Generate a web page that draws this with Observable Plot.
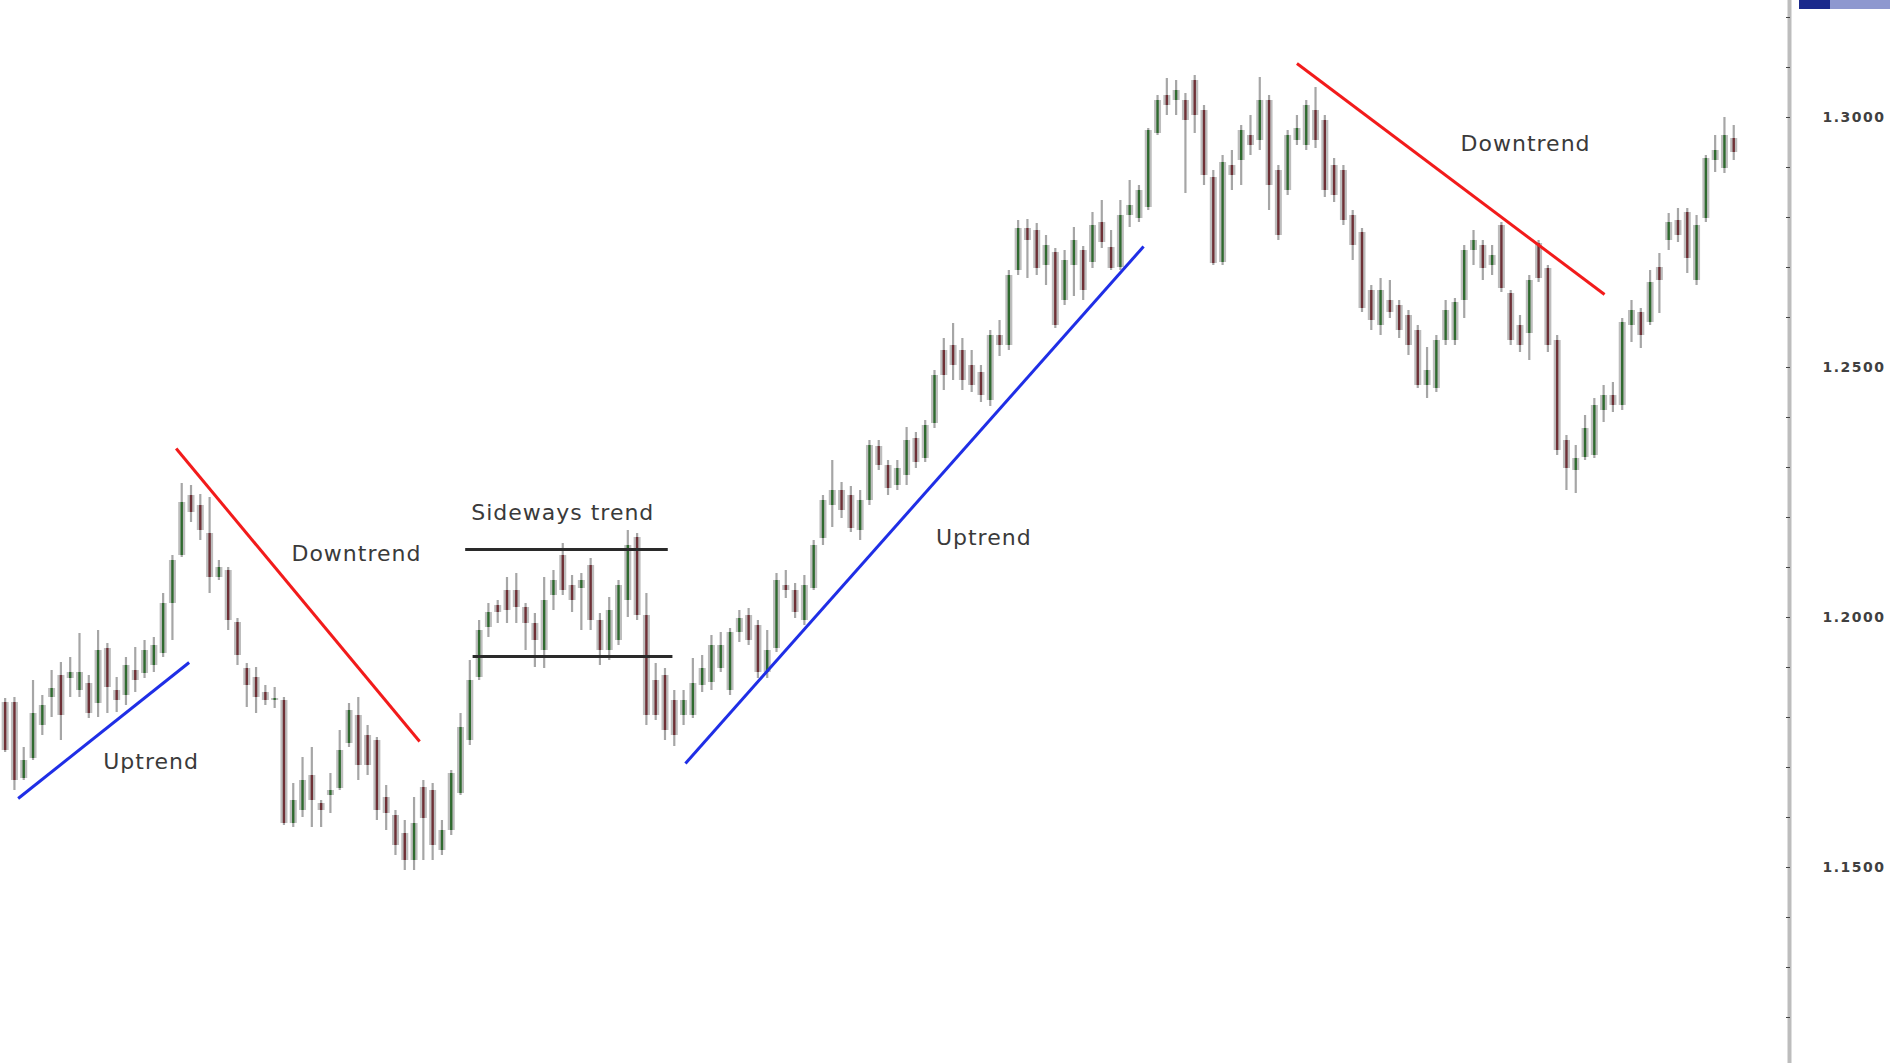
<!DOCTYPE html>
<html><head><meta charset="utf-8">
<script src="https://cdn.jsdelivr.net/npm/d3@7"></script>
<script src="https://cdn.jsdelivr.net/npm/@observablehq/plot@0.6"></script>
<style>
html,body{margin:0;padding:0;background:#fff;overflow:hidden}
#chart{position:relative;width:1890px;height:1063px}
#tag{position:absolute;left:1799px;top:0;width:91px;height:9px;background:linear-gradient(90deg,#1b2a8c 0 34%,#8e98cf 34% 100%)}
g[aria-label="text"] text{letter-spacing:1px}
g[aria-label="y-axis tick label"] text{letter-spacing:1.5px}
</style></head><body><div id="chart"><div id="tag"></div></div>
<script>
// OHLC values (EUR/USD-like quotes)
const open = [1.1830,1.1830,1.1678,1.1718,1.1784,1.1840,1.1884,1.1878,1.1854,1.1868,
1.1828,1.1938,1.1854,1.1844,1.1894,1.1888,1.1904,1.1928,1.2028,1.2124,
1.2244,1.2224,1.2168,1.2080,1.2094,1.1990,1.1898,1.1880,1.1850,1.1834,
1.1834,1.1588,1.1614,1.1684,1.1628,1.1644,1.1658,1.1748,1.1804,1.1764,
1.1754,1.1640,1.1604,1.1568,1.1514,1.1660,1.1654,1.1534,1.1574,1.1648,
1.1754,1.1880,1.1980,1.2024,1.2054,1.2054,1.2020,1.1988,1.1934,1.2044,
1.2124,1.2064,1.2058,1.2104,1.1994,1.1934,1.1954,1.2034,1.2160,1.2004,
1.1874,1.1884,1.1834,1.1804,1.1804,1.1864,1.1870,1.1898,1.1854,1.1970,
1.2004,1.1984,1.1890,1.1938,1.2064,1.2054,1.1994,1.2058,1.2158,1.2224,
1.2254,1.2244,1.2174,1.2234,1.2342,1.2304,1.2264,1.2284,1.2358,1.2318,
1.2388,1.2534,1.2544,1.2534,1.2504,1.2490,1.2434,1.2564,1.2544,1.2694,
1.2778,1.2774,1.2704,1.2730,1.2634,1.2704,1.2734,1.2710,1.2790,1.2740,
1.2700,1.2804,1.2798,1.2820,1.2968,1.3044,1.3034,1.3034,1.3074,1.3014,
1.2880,1.2710,1.2904,1.2914,1.2964,1.2954,1.3034,1.2894,1.2854,1.2954,
1.2944,1.3014,1.2994,1.2904,1.2894,1.2804,1.2770,1.2654,1.2584,1.2634,
1.2624,1.2604,1.2574,1.2464,1.2458,1.2554,1.2554,1.2634,1.2734,1.2744,
1.2704,1.2784,1.2648,1.2584,1.2568,1.2748,1.2698,1.2554,1.2354,1.2294,
1.2320,1.2324,1.2414,1.2444,1.2424,1.2584,1.2610,1.2590,1.2700,1.2754,
1.2794,1.2810,1.2674,1.2798,1.2914,1.2898,1.2958];
const high = [1.1838,1.1840,1.1740,1.1874,1.1844,1.1894,1.1910,1.1920,1.1968,1.1884,
1.1974,1.1948,1.1880,1.1920,1.1940,1.1954,1.1960,1.2048,1.2124,1.2268,
1.2264,1.2246,1.2240,1.2114,1.2100,1.1998,1.1908,1.1900,1.1864,1.1860,
1.1840,1.1668,1.1720,1.1740,1.1634,1.1688,1.1774,1.1828,1.1840,1.1784,
1.1760,1.1664,1.1614,1.1594,1.1640,1.1674,1.1668,1.1594,1.1694,1.1808,
1.1914,1.1994,1.2028,1.2034,1.2080,1.2088,1.2028,1.2008,1.2080,1.2094,
1.2148,1.2084,1.2088,1.2118,1.2008,1.2040,1.2074,1.2174,1.2168,1.2048,
1.1908,1.1898,1.1854,1.1854,1.1918,1.1924,1.1964,1.1970,1.1978,1.2014,
1.2018,1.1994,1.1974,1.2088,1.2094,1.2068,1.2084,1.2154,1.2244,1.2314,
1.2270,1.2262,1.2254,1.2354,1.2354,1.2314,1.2314,1.2380,1.2370,1.2394,
1.2494,1.2558,1.2588,1.2558,1.2534,1.2504,1.2574,1.2594,1.2694,1.2794,
1.2796,1.2788,1.2764,1.2738,1.2734,1.2780,1.2742,1.2810,1.2834,1.2774,
1.2834,1.2874,1.2864,1.2978,1.3044,1.3078,1.3074,1.3048,1.3084,1.3024,
1.2894,1.2924,1.2934,1.2984,1.3004,1.3080,1.3044,1.2904,1.2974,1.3004,
1.3034,1.3060,1.3004,1.2918,1.2904,1.2814,1.2778,1.2664,1.2678,1.2674,
1.2634,1.2614,1.2584,1.2540,1.2564,1.2634,1.2638,1.2744,1.2774,1.2754,
1.2744,1.2790,1.2654,1.2604,1.2684,1.2754,1.2704,1.2564,1.2364,1.2344,
1.2404,1.2438,1.2464,1.2470,1.2598,1.2634,1.2618,1.2694,1.2728,1.2808,
1.2818,1.2818,1.2804,1.2924,1.2964,1.3000,1.2984];
const low = [1.1730,1.1654,1.1674,1.1714,1.1764,1.1800,1.1754,1.1840,1.1840,1.1798,
1.1800,1.1808,1.1810,1.1824,1.1850,1.1878,1.1890,1.1920,1.1954,1.2120,
1.2190,1.2154,1.2048,1.2074,1.1974,1.1904,1.1820,1.1808,1.1824,1.1818,
1.1584,1.1580,1.1600,1.1580,1.1580,1.1608,1.1654,1.1740,1.1674,1.1684,
1.1594,1.1574,1.1524,1.1494,1.1494,1.1514,1.1514,1.1524,1.1564,1.1644,
1.1744,1.1874,1.1960,1.1988,1.1988,1.1988,1.1934,1.1900,1.1898,1.2014,
1.2044,1.2010,1.1974,1.1974,1.1904,1.1914,1.1944,1.2000,1.1994,1.1784,
1.1794,1.1754,1.1742,1.1784,1.1798,1.1850,1.1854,1.1890,1.1844,1.1950,
1.1944,1.1878,1.1878,1.1930,1.2038,1.1998,1.1984,1.2054,1.2144,1.2180,
1.2198,1.2170,1.2154,1.2224,1.2294,1.2244,1.2254,1.2264,1.2298,1.2310,
1.2378,1.2454,1.2474,1.2454,1.2450,1.2430,1.2422,1.2522,1.2534,1.2684,
1.2678,1.2684,1.2664,1.2578,1.2624,1.2642,1.2634,1.2698,1.2738,1.2694,
1.2694,1.2780,1.2790,1.2814,1.2964,1.3004,1.3004,1.2848,1.2968,1.2864,
1.2704,1.2704,1.2854,1.2864,1.2924,1.2934,1.2814,1.2754,1.2844,1.2944,
1.2934,1.2938,1.2840,1.2830,1.2784,1.2714,1.2610,1.2574,1.2564,1.2598,
1.2558,1.2524,1.2458,1.2438,1.2450,1.2544,1.2544,1.2598,1.2704,1.2674,
1.2684,1.2650,1.2544,1.2530,1.2514,1.2670,1.2530,1.2324,1.2254,1.2248,
1.2314,1.2318,1.2390,1.2410,1.2414,1.2550,1.2538,1.2584,1.2608,1.2734,
1.2750,1.2688,1.2664,1.2790,1.2890,1.2888,1.2914];
const close = [1.1734,1.1674,1.1714,1.1808,1.1824,1.1858,1.1804,1.1890,1.1890,1.1808,
1.1934,1.1860,1.1834,1.1904,1.1874,1.1934,1.1944,1.2028,1.2114,1.2230,
1.2210,1.2174,1.2080,1.2100,1.1994,1.1924,1.1864,1.1840,1.1834,1.1838,
1.1588,1.1634,1.1674,1.1634,1.1614,1.1654,1.1734,1.1814,1.1704,1.1704,
1.1614,1.1608,1.1544,1.1514,1.1588,1.1598,1.1544,1.1574,1.1688,1.1780,
1.1874,1.1974,1.2010,1.2010,1.2014,1.2020,1.1988,1.1954,1.2034,1.2074,
1.2054,1.2034,1.2074,1.1994,1.1934,1.2014,1.2064,1.2144,1.2004,1.1804,
1.1804,1.1774,1.1764,1.1834,1.1868,1.1898,1.1944,1.1944,1.1970,1.1998,
1.1954,1.1890,1.1934,1.2074,1.2054,1.2010,1.2064,1.2144,1.2234,1.2254,
1.2214,1.2178,1.2234,1.2344,1.2304,1.2258,1.2298,1.2354,1.2310,1.2384,
1.2484,1.2484,1.2504,1.2474,1.2464,1.2444,1.2564,1.2544,1.2684,1.2778,
1.2754,1.2698,1.2744,1.2584,1.2714,1.2754,1.2654,1.2784,1.2750,1.2698,
1.2804,1.2824,1.2854,1.2974,1.3034,1.3024,1.3054,1.2994,1.3004,1.2884,
1.2708,1.2910,1.2884,1.2974,1.2944,1.3034,1.2864,1.2764,1.2964,1.2978,
1.3024,1.2954,1.2854,1.2844,1.2794,1.2744,1.2618,1.2594,1.2654,1.2610,
1.2574,1.2544,1.2464,1.2494,1.2554,1.2614,1.2630,1.2734,1.2754,1.2698,
1.2724,1.2658,1.2554,1.2544,1.2674,1.2678,1.2544,1.2334,1.2298,1.2318,
1.2378,1.2424,1.2444,1.2424,1.2590,1.2614,1.2564,1.2670,1.2674,1.2790,
1.2764,1.2718,1.2784,1.2918,1.2934,1.2964,1.2930];

// Trend lines (bar index, price)
const trendKind = ["up","down","flat","flat","up","down"];
const trendX1 = [1.4, 18.4, 49.5, 50.3, 73.2, 139.0];
const trendY1 = [1.1638, 1.2338, 1.2136, 1.1922, 1.1708, 1.3108];
const trendX2 = [19.8, 44.6, 71.3, 71.8, 122.5, 172.1];
const trendY2 = [1.1910, 1.1752, 1.2136, 1.1922, 1.2742, 1.2646];

// Annotation labels (bar index, price)
const labelText = ["Uptrend","Downtrend","Sideways trend","Uptrend","Downtrend"];
const labelX = [15.7, 37.8, 60.0, 105.3, 163.6];
const labelY = [1.1712, 1.2128, 1.2210, 1.2160, 1.2948];

// Axis ticks
const minorTicks = d3.range(112, 133).map(v => v / 100);
const majorTicks = [1.15, 1.20, 1.25, 1.30];

const bars = open.map((o, i) => ({i, o, h: high[i], l: low[i], c: close[i], up: close[i] >= o}));
const trends = trendKind.map((k, j) => ({k, x1: trendX1[j], y1: trendY1[j], x2: trendX2[j], y2: trendY2[j]}));
const labels = labelText.map((t, j) => ({t, x: labelX[j], y: labelY[j]}));
const trendColor = {up: "#1f2ee6", down: "#f21b1b", flat: "#2a2a2a"};

const chart = Plot.plot({
  width: 1890, height: 1063,
  marginLeft: 0, marginRight: 101, marginTop: 0, marginBottom: 0,
  x: {domain: [-0.5, 192], axis: null},
  y: {domain: [1.1108, 1.3234], axis: null},
  style: {background: "#fff", fontFamily: "DejaVu Sans, sans-serif"},
  marks: [
    Plot.ruleX(bars, {x: "i", y1: "l", y2: "h", stroke: "#a6a6a6", strokeWidth: 2.2}),
    Plot.ruleX(bars, {x: "i", y1: "o", y2: "c", stroke: "#bdbdbd", strokeWidth: 7}),
    Plot.ruleX(bars, {x: "i", y1: "o", y2: "c", stroke: d => d.up ? "#2f6a2f" : "#6e3036", strokeWidth: 2.4}),
    Plot.link(trends, {x1: "x1", y1: "y1", x2: "x2", y2: "y2", stroke: d => trendColor[d.k], strokeWidth: 3}),
    Plot.text(labels, {x: "x", y: "y", text: "t", fontSize: 22, fill: "#3a3a3a", textAnchor: "middle", fontFamily: "DejaVu Sans, sans-serif"}),
    Plot.frame({anchor: "right", stroke: "#bdbdbd", strokeWidth: 4}),
    Plot.axisY(minorTicks, {anchor: "right", tickSize: 4, dx: -4, stroke: "#444", fill: "none", label: null}),
    Plot.axisY(majorTicks, {anchor: "right", tickSize: 0, tickPadding: 33, tickFormat: d3.format(".4f"), fontSize: 14, fontWeight: "bold", fill: "#404040", label: null})
  ]
});
document.getElementById("chart").prepend(chart);
</script>
</body></html>
